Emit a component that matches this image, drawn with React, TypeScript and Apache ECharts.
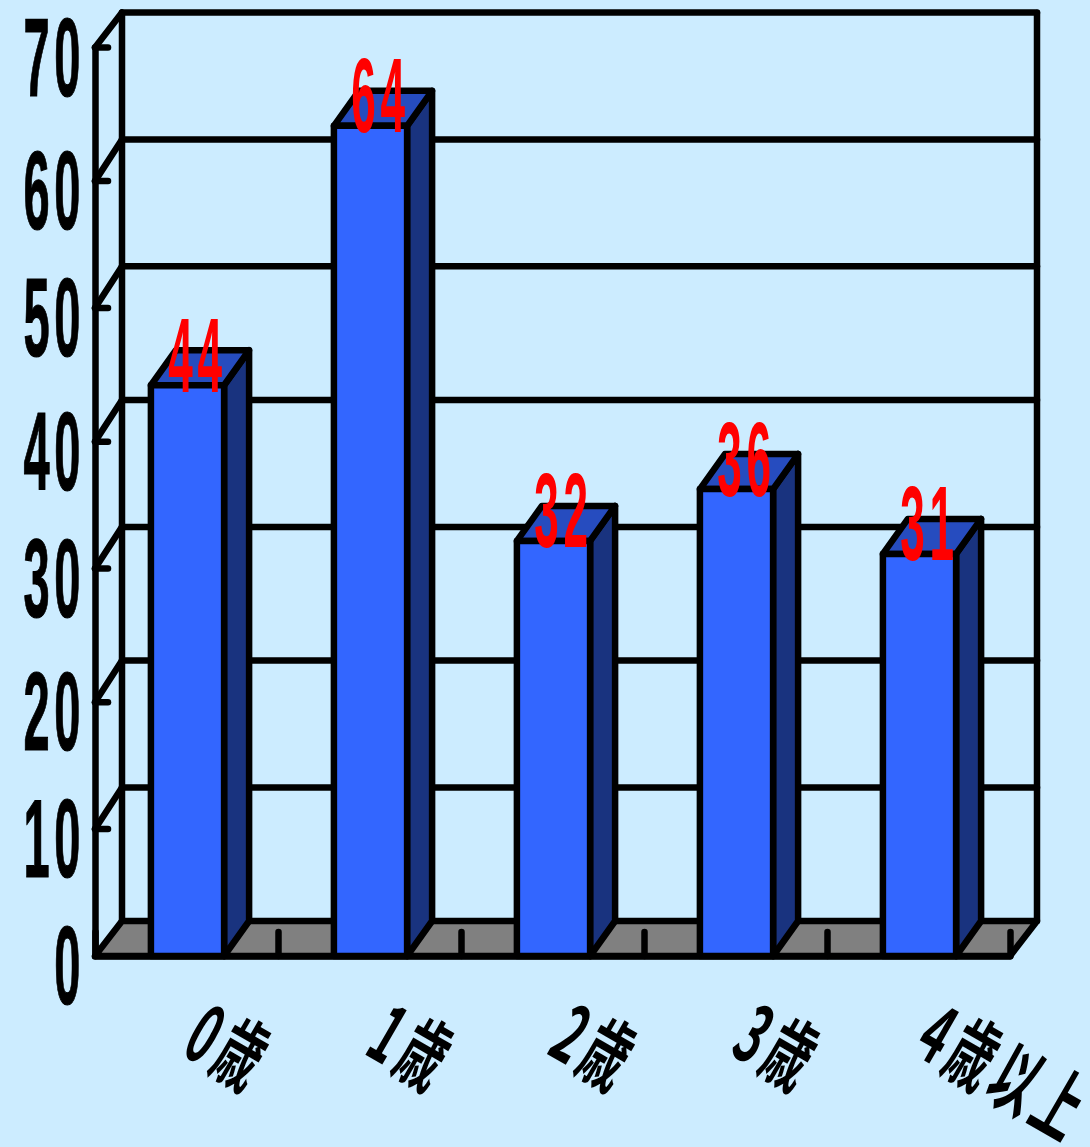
import React, { useEffect, useRef } from "react";
import * as echarts from "echarts";

const categories = ["0歳", "1歳", "2歳", "3歳", "4歳以上"];
const counts = [44, 64, 32, 36, 31];
const yTicks = [0, 10, 20, 30, 40, 50, 60, 70];

const BG = "#CCECFF";
const BLACK = "#000000";
const FRONT = "#3366FF";
const SIDE = "#19337F";
const TOP = "#264CBF";
const FLOOR = "#808080";
const LINE = 6.5;
const DEPTH_X = 27;
const DEPTH_Y = 35;
const BAR_DEPTH_X = 25;
// Wall lines land on a coarse raster, as in a low-resolution metafile.
const RASTER = 6.68;
// Inherited by every svg text; the condensed digits need the extra air.
const LETTER_SPACING = 11;

const stroke = { stroke: BLACK, lineWidth: LINE, lineCap: "round", lineJoin: "round" };

function seg(x1: number, y1: number, x2: number, y2: number) {
  return { type: "line", shape: { x1, y1, x2, y2 }, style: { ...stroke, fill: "none" } };
}

function poly(points: number[][], fill: string) {
  return { type: "polygon", shape: { points }, style: { ...stroke, fill } };
}

function renderWalls(params: any, api: any) {
  const cs = params.coordSys;
  const v = api.value(1);
  const left = cs.x;
  const right = cs.x + cs.width;
  const floorY = cs.y + cs.height;
  const y = api.coord([0, v])[1];
  const units = (floorY - y) / RASTER;
  const frontY = floorY - Math.floor(units + 0.1) * RASTER;
  const backY = floorY - DEPTH_Y - Math.ceil(units) * RASTER;
  const children: any[] = [];
  if (v === 0) {
    children.push(
      poly(
        [
          [left, floorY],
          [left + DEPTH_X, floorY - DEPTH_Y],
          [right + DEPTH_X, floorY - DEPTH_Y],
          [right, floorY],
        ],
        FLOOR,
      ),
    );
    children.push(seg(left + DEPTH_X, floorY - DEPTH_Y, left + DEPTH_X, cs.y - DEPTH_Y));
    children.push(seg(right + DEPTH_X, floorY - DEPTH_Y, right + DEPTH_X, cs.y - DEPTH_Y));
  } else {
    children.push(seg(left + DEPTH_X, backY, right + DEPTH_X, backY));
    children.push(seg(left, frontY, left + DEPTH_X, backY));
    children.push(seg(left, frontY, left + 13, frontY));
  }
  children.push({
    type: "text",
    x: 85,
    y: frontY + 9,
    scaleX: 0.42,
    style: {
      text: String(v),
      x: 0,
      y: 0,
      align: "right",
      verticalAlign: "middle",
      fill: BLACK,
      stroke: BLACK,
      lineWidth: 1.2,
      font: 'bold 112px "Liberation Sans"',
    },
  });
  return { type: "group", children };
}

function renderBars(params: any, api: any) {
  const idx = api.value(0);
  const value = api.value(1);
  const [cx, yTop] = api.coord([idx, value]);
  const [, y0] = api.coord([idx, 0]);
  const band = api.size([1, 0])[0];
  const w = band * 0.4;
  const l = cx - w / 2 + 1;
  const r = l + w;
  return {
    type: "group",
    children: [
      poly(
        [
          [r, yTop],
          [r + BAR_DEPTH_X, yTop - DEPTH_Y],
          [r + BAR_DEPTH_X, y0 - DEPTH_Y],
          [r, y0],
        ],
        SIDE,
      ),
      poly(
        [
          [l, yTop],
          [l + BAR_DEPTH_X, yTop - DEPTH_Y],
          [r + BAR_DEPTH_X, yTop - DEPTH_Y],
          [r, yTop],
        ],
        TOP,
      ),
      poly(
        [
          [l, yTop],
          [r, yTop],
          [r, y0],
          [l, y0],
        ],
        FRONT,
      ),
      {
        type: "text",
        x: cx + 11,
        y: yTop - 30,
        scaleX: 0.42,
        style: {
          text: String(value),
          x: 0,
          y: 0,
          align: "center",
          verticalAlign: "middle",
          fill: "#FF0000",
          font: 'bold 105px "Liberation Sans"',
        },
      },
    ],
  };
}

function renderCategoryLabels(params: any, api: any) {
  const idx = api.value(0);
  const [cx] = api.coord([idx, 0]);
  const floorY = params.coordSys.y + params.coordSys.height;
  return {
    type: "text",
    x: cx + 10,
    y: floorY + 67,
    rotation: (-30 * Math.PI) / 180,
    scaleX: 0.55,
    style: {
      text: categories[idx],
      x: 0,
      y: 0,
      align: "left",
      verticalAlign: "middle",
      fill: BLACK,
      font: 'bold 80px "Noto Sans CJK JP"',
    },
  };
}

export default function App() {
  const ref = useRef<HTMLDivElement>(null);
  useEffect(() => {
    const chart = echarts.init(ref.current!, null, { renderer: "svg" });
    chart.setOption({
      animation: false,
      backgroundColor: BG,
      grid: { left: 95, right: 80, top: 48, bottom: 191, containLabel: false },
      xAxis: {
        type: "category",
        data: categories,
        z: 3,
        axisLine: { show: true, lineStyle: { color: BLACK, width: LINE } },
        axisTick: {
          show: true,
          inside: true,
          length: 24,
          lineStyle: { color: BLACK, width: LINE, cap: "round" },
        },
        axisLabel: { show: false },
        splitLine: { show: false },
      },
      yAxis: {
        type: "value",
        min: 0,
        max: 70,
        interval: 10,
        z: 3,
        axisLine: { show: true, lineStyle: { color: BLACK, width: LINE } },
        axisTick: { show: false },
        axisLabel: { show: false },
        splitLine: { show: false },
      },
      series: [
        {
          type: "custom",
          z: 1,
          clip: false,
          renderItem: renderWalls,
          data: yTicks.map((v) => [0, v]),
        },
        {
          type: "custom",
          z: 5,
          clip: false,
          renderItem: renderBars,
          data: counts.map((v, i) => [i, v]),
        },
        {
          type: "custom",
          z: 6,
          clip: false,
          renderItem: renderCategoryLabels,
          data: categories.map((_, i) => [i, 0]),
        },
      ],
    });
    return () => chart.dispose();
  }, []);
  return (
    <div
      ref={ref}
      style={{
        position: "fixed",
        left: 0,
        top: 0,
        width: 1090,
        height: 1147,
        letterSpacing: LETTER_SPACING,
      }}
    />
  );
}
